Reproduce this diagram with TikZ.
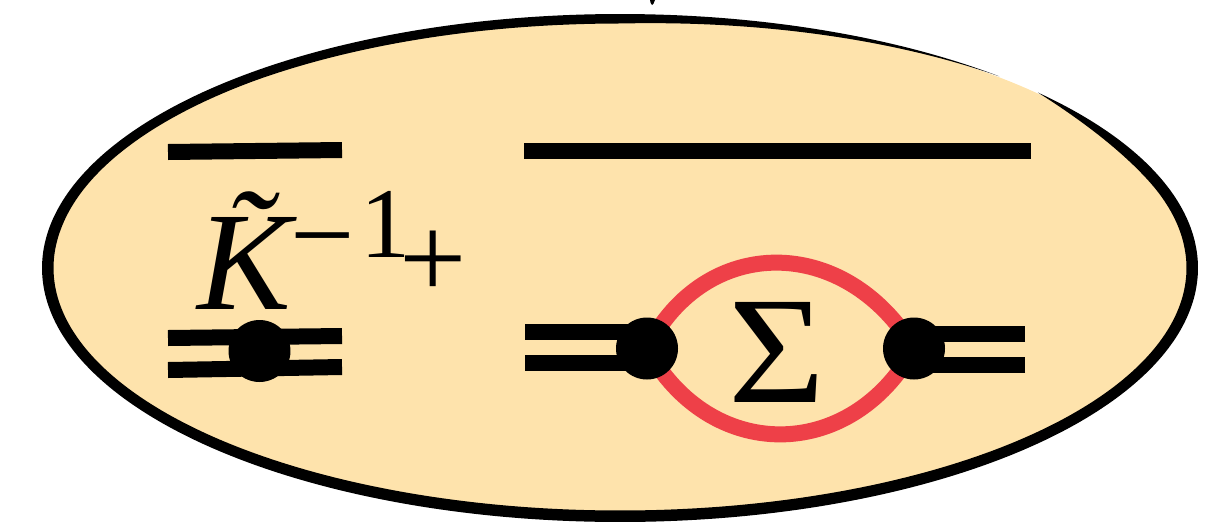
\documentclass[tikz,border=0pt]{standalone}
\usepackage{fontspec}
\setmainfont{Liberation Serif}
\newfontfamily\sumfont[FakeStretch=1.09]{Liberation Serif}
\definecolor{fblob}{HTML}{FEE3AC}
\definecolor{sloop}{HTML}{EE4048}

\pgfmathdeclarefunction{rimw}{1}{%
  \pgfmathparse{min(11.5,9.5*(#1-49)/41,9.5+max(0,#1-130)*0.05,11.5*(1-(1-min(1,(403.7-#1)/22))^2))}%
}

\tikzset{
  barline/.style={draw=black,line width=0.32cm},
  loopline/.style={draw=sloop,line width=0.32cm},
  vertex/.style={circle,fill=black,inner sep=0pt,minimum size=1.24cm},
  biglabel/.style={inner sep=0pt,font=\fontsize{80}{90}\selectfont},
  sumlabel/.style={inner sep=0pt,font=\sumfont\fontsize{87}{96}\selectfont},
  midlabel/.style={inner sep=0pt,font=\fontsize{57}{64}\selectfont},
  signlabel/.style={inner sep=0pt,font=\fontsize{65}{72}\selectfont},
  pluslabel/.style={inner sep=0pt,font=\fontsize{68}{76}\selectfont}
}

\begin{document}
\begin{tikzpicture}[x=0.02cm,y=-0.02cm]
\useasboundingbox (0,0) rectangle (1220,531);
% blob
\fill[fblob] (620,268) ellipse [x radius=577,y radius=253];
\fill[black] plot[domain=49:403.7,samples=400] ({620+578*cos(\x)},{268-254*sin(\x)})
  -- plot[domain=403.7:49,samples=400] ({620+(578-rimw(\x))*cos(\x)},{268-(254-rimw(\x))*sin(\x)}) -- cycle;
\fill[black] (650,0) -- (655,0) .. controls (654,3) and (653,5) .. (652,5) .. controls (651,4) and (650,2) .. (650,0) -- cycle;
% left
\coordinate (topa) at (168,152);
\coordinate (topb) at (342,150);
\coordinate (upa) at (168,338);
\coordinate (upb) at (342,336);
\coordinate (lowa) at (168,370);
\coordinate (lowb) at (342,367);
\draw[barline] (topa) -- (topb);
\draw[barline] (upa) -- (upb);
\draw[barline] (lowa) -- (lowb);
\node[vertex] (vleft) at (259.5,351) {};
\node[biglabel,anchor=base west] (ktilde) at (197,309) {\itshape\~{K}};
\node[signlabel,anchor=base west] (minus) at (290.5,273) {−};
\node[midlabel,anchor=base west] (one) at (360,257) {1};
\node[pluslabel,anchor=base west] (plus) at (399,298) {+};
% right
\coordinate (longa) at (524,151);
\coordinate (longb) at (1031,151);
\draw[barline] (longa) -- (longb);
\coordinate (pa) at (647,348.5);
\coordinate (pb) at (914,348.5);
\coordinate (ina) at (525,332);
\coordinate (inb) at (525,363);
\coordinate (outa) at (1025,334);
\coordinate (outb) at (1025,365);
\draw[barline] (ina) -- (ina-|pa);
\draw[barline] (inb) -- (inb-|pa);
\draw[barline] (outa) -- (outa-|pb);
\draw[barline] (outb) -- (outb-|pb);
\draw[loopline] (pa) .. controls (705,234) and (845,234) .. (pb);
\draw[loopline] (pa) .. controls (710,463) and (850,463) .. (pb);
\node[vertex] (va) at (pa) {};
\node[vertex] (vb) at (pb) {};
\node[sumlabel] (sigma) at (776.5,352) {Σ};
\end{tikzpicture}
\end{document}
